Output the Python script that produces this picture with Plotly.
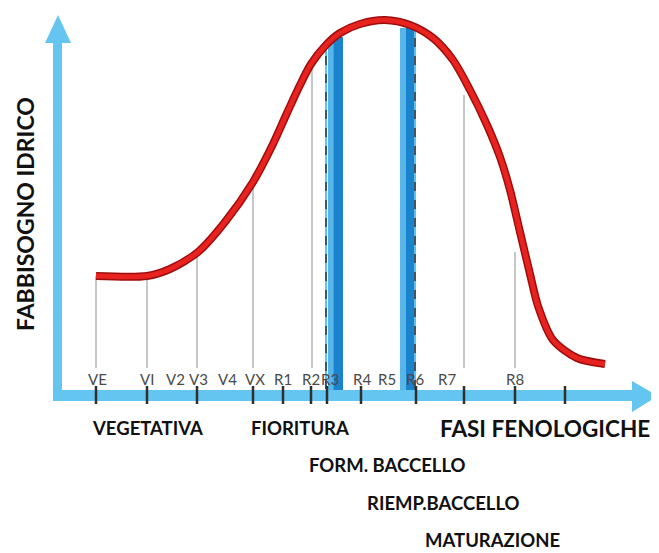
import plotly.graph_objects as go

# ---- data -------------------------------------------------------------
# phenological position (arbitrary time units) and relative water need
curve_pos = [96, 147, 170, 198, 225, 253, 273, 287, 300, 311, 326, 340, 360, 385,
             410, 433, 453, 470, 487, 500, 510, 520, 530, 538, 553, 577, 605]
water_need = [119, 119, 126, 143, 173, 213, 251, 282, 310, 331, 350, 362, 371, 375,
              370, 357, 335, 305, 270, 238, 205, 163, 121, 89, 55, 37, 31]

stage_labels = ["VE", "VI", "V2", "V3", "V4", "VX", "R1", "R2", "R3", "R4", "R5", "R6", "R7", "R8"]
stage_label_pos = [97, 147, 175, 198, 227, 255, 283, 311, 330, 362, 387, 415, 447, 515]

tick_pos = [96, 147, 197, 253, 283, 311, 327, 361, 416, 464, 515, 565]

# thin reference lines: position, top value
ref_pos = [96, 147, 197, 253, 312, 464, 515]
ref_top = [119, 119, 143, 213, 330, 300, 143]

# highlighted stages (R3, R6): left, right, top
band_left = [328, 400]
band_right = [343, 416]
band_top = [358, 367]
dash_pos = [326, 415]
dash_top = [350, 365]

phase_labels = ["VEGETATIVA", "FIORITURA", "FORM. BACCELLO", "RIEMP.BACCELLO", "MATURAZIONE"]
phase_pos = [147, 300, 387, 443, 492]
phase_level = [-33, -33, -70, -108, -145]

x_title = "FASI FENOLOGICHE"
y_title = "FABBISOGNO IDRICO"

# ---- figure -----------------------------------------------------------
AX = "#63c5f0"
fig = go.Figure()

# reference lines
for p, t in zip(ref_pos, ref_top):
    fig.add_trace(go.Scatter(x=[p, p], y=[27, t], mode="lines",
                             line=dict(color="#a9a9a9", width=1.3), hoverinfo="skip"))

# dashed lines at R3/R6
for p, t in zip(dash_pos, dash_top):
    fig.add_trace(go.Scatter(x=[p, p], y=[6, t], mode="lines",
                             line=dict(color="#5fc0f0", width=2), hoverinfo="skip"))
    fig.add_trace(go.Scatter(x=[p, p], y=[6, t], mode="lines",
                             line=dict(color="#333333", width=1.5, dash="dash"), hoverinfo="skip"))

# red curve
fig.add_trace(go.Scatter(x=curve_pos, y=water_need, mode="lines",
                         line=dict(color="#9e0d0d", width=8, shape="spline", smoothing=0.8),
                         hoverinfo="skip"))
fig.add_trace(go.Scatter(x=curve_pos, y=water_need, mode="lines",
                         line=dict(color="#e8231f", width=5, shape="spline", smoothing=0.8),
                         hoverinfo="skip"))

# tick marks
for p in tick_pos:
    fig.add_trace(go.Scatter(x=[p, p], y=[9, -9], mode="lines",
                             line=dict(color="#2f2f2f", width=2.5), hoverinfo="skip"))

shapes = []
# blue bands
for l, r, t in zip(band_left, band_right, band_top):
    w = r - l
    shapes.append(dict(type="rect", xref="x", yref="y", x0=l, x1=l + w * 0.35, y0=5, y1=t,
                       fillcolor="#56b6ec", line=dict(width=0), layer="below"))
    shapes.append(dict(type="rect", xref="x", yref="y", x0=l + w * 0.35, x1=r, y0=5, y1=t,
                       fillcolor="#1b82cc", line=dict(width=0), layer="below"))

# axes arrows
shapes.append(dict(type="path", xref="x", yref="y",
                   path="M53,-6 L53,352 L45,352 L58,380 L71,352 L62,352 L62,5 L632,5 L632,14 L658,-1 L632,-17 L632,-6 Z",
                   fillcolor=AX, line=dict(width=0), layer="below"))

fig.update_layout(shapes=shapes)

ann = []
for lab, p in zip(stage_labels, stage_label_pos):
    ann.append(dict(x=p, y=16, xref="x", yref="y", text=lab, showarrow=False,
                    font=dict(family="Lato", size=15, color="#4a4a4a")))
for lab, p, lv in zip(phase_labels, phase_pos, phase_level):
    ann.append(dict(x=p, y=lv, xref="x", yref="y", text="<b>" + lab + "</b>", showarrow=False,
                    font=dict(family="Lato", size=18.5, color="#111111")))
ann.append(dict(x=545, y=-33, xref="x", yref="y", text="<b>" + x_title + "</b>", showarrow=False,
                font=dict(family="Lato", size=22.5, color="#111111")))
ann.append(dict(x=25, y=181, xref="x", yref="y", text="<b>" + y_title + "</b>", showarrow=False,
                textangle=-90, font=dict(family="Lato", size=23, color="#111111")))

# page has an 8px body margin: compensate so that marks land where intended
fig.update_layout(
    annotations=ann,
    width=651, height=545,
    margin=dict(l=0, r=0, t=0, b=0),
    paper_bgcolor="white", plot_bgcolor="white",
    showlegend=False,
    xaxis=dict(range=[8, 659], visible=False, fixedrange=True),
    yaxis=dict(range=[-158, 387], visible=False, fixedrange=True),
)

fig.write_html("out.html")
